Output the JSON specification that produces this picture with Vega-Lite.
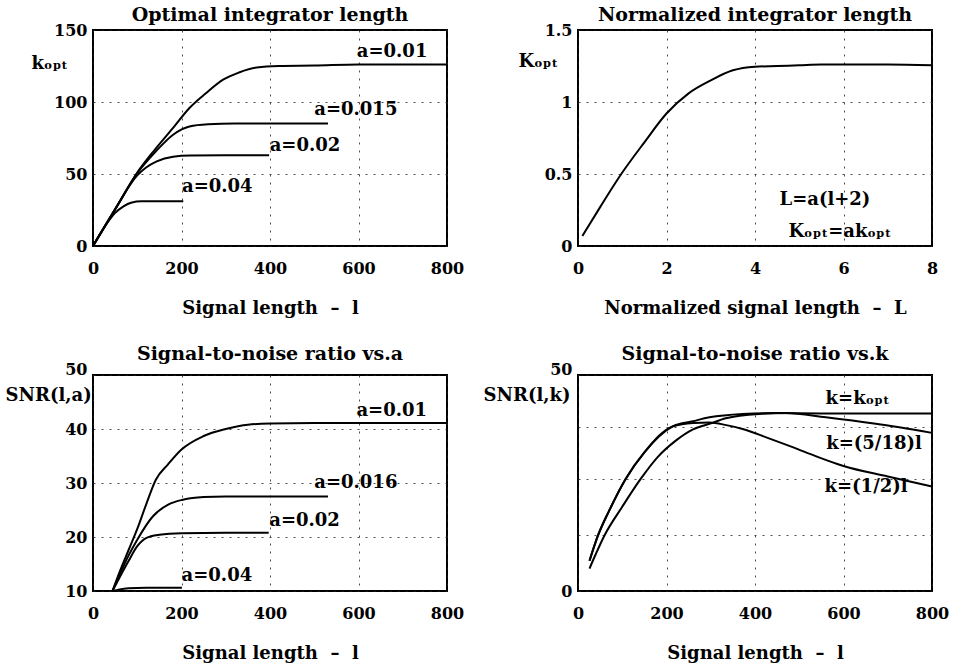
{
  "$schema": "https://vega.github.io/schema/vega-lite/v6.json",
  "background": "white",
  "padding": {"left": 4, "top": 5, "right": 5, "bottom": 0},
  "bounds": "flush",
  "columns": 2,
  "spacing": {"row": 129, "column": 131},
  "datasets": {
    "p1": [
      {"a": "0.01", "l": 0, "k": 0}, {"a": "0.01", "l": 50, "k": 25.5}, {"a": "0.01", "l": 100, "k": 51}, {"a": "0.01", "l": 140, "k": 67}, {"a": "0.01", "l": 181, "k": 82}, {"a": "0.01", "l": 218, "k": 95.8}, {"a": "0.01", "l": 255, "k": 106}, {"a": "0.01", "l": 294, "k": 115.5}, {"a": "0.01", "l": 330, "k": 120.5}, {"a": "0.01", "l": 370, "k": 124}, {"a": "0.01", "l": 420, "k": 125}, {"a": "0.01", "l": 500, "k": 125.3}, {"a": "0.01", "l": 600, "k": 126}, {"a": "0.01", "l": 700, "k": 126}, {"a": "0.01", "l": 800, "k": 126},
      {"a": "0.015", "l": 0, "k": 0}, {"a": "0.015", "l": 50, "k": 25.5}, {"a": "0.015", "l": 100, "k": 50.5}, {"a": "0.015", "l": 140, "k": 65}, {"a": "0.015", "l": 181, "k": 77.3}, {"a": "0.015", "l": 218, "k": 83}, {"a": "0.015", "l": 260, "k": 84.5}, {"a": "0.015", "l": 320, "k": 85}, {"a": "0.015", "l": 400, "k": 85}, {"a": "0.015", "l": 531, "k": 85},
      {"a": "0.02", "l": 0, "k": 0}, {"a": "0.02", "l": 50, "k": 25.5}, {"a": "0.02", "l": 100, "k": 49}, {"a": "0.02", "l": 120, "k": 54.5}, {"a": "0.02", "l": 144, "k": 58.8}, {"a": "0.02", "l": 181, "k": 62}, {"a": "0.02", "l": 220, "k": 62.8}, {"a": "0.02", "l": 300, "k": 63}, {"a": "0.02", "l": 398, "k": 63},
      {"a": "0.04", "l": 0, "k": 0}, {"a": "0.04", "l": 30, "k": 15}, {"a": "0.04", "l": 50, "k": 23}, {"a": "0.04", "l": 69, "k": 27.5}, {"a": "0.04", "l": 86, "k": 30}, {"a": "0.04", "l": 110, "k": 31}, {"a": "0.04", "l": 150, "k": 31}, {"a": "0.04", "l": 204, "k": 31}
    ],
    "p1labels": [
      {"text": "a=0.01", "l": 676, "k": 135},
      {"text": "a=0.015", "l": 594, "k": 94.7},
      {"text": "a=0.02", "l": 479, "k": 69.7},
      {"text": "a=0.04", "l": 281, "k": 41}
    ],
    "p2": [
      {"L": 0.1, "K": 0.07}, {"L": 0.5, "K": 0.27}, {"L": 1, "K": 0.51}, {"L": 1.5, "K": 0.72}, {"L": 2, "K": 0.92}, {"L": 2.5, "K": 1.06}, {"L": 3, "K": 1.15}, {"L": 3.5, "K": 1.22}, {"L": 4, "K": 1.245}, {"L": 4.5, "K": 1.25}, {"L": 5, "K": 1.255}, {"L": 5.5, "K": 1.26}, {"L": 6, "K": 1.26}, {"L": 7, "K": 1.26}, {"L": 8, "K": 1.255}
    ],
    "p2labels": [
      {"text": "L=a(l+2)", "L": 5.58, "K": 0.32},
      {"text": "Kₒₚₜ=akₒₚₜ", "L": 5.92, "K": 0.1}
    ],
    "p3": [
      {"a": "0.01", "l": 44, "s": 10}, {"a": "0.01", "l": 60, "s": 13.5}, {"a": "0.01", "l": 80, "s": 17.5}, {"a": "0.01", "l": 100, "s": 21.5}, {"a": "0.01", "l": 120, "s": 26}, {"a": "0.01", "l": 142, "s": 30.6}, {"a": "0.01", "l": 170, "s": 33.5}, {"a": "0.01", "l": 200, "s": 36.2}, {"a": "0.01", "l": 250, "s": 38.7}, {"a": "0.01", "l": 300, "s": 40}, {"a": "0.01", "l": 350, "s": 40.8}, {"a": "0.01", "l": 400, "s": 41}, {"a": "0.01", "l": 500, "s": 41.1}, {"a": "0.01", "l": 600, "s": 41.1}, {"a": "0.01", "l": 800, "s": 41.1},
      {"a": "0.016", "l": 44, "s": 10}, {"a": "0.016", "l": 60, "s": 13}, {"a": "0.016", "l": 80, "s": 16.5}, {"a": "0.016", "l": 100, "s": 19.5}, {"a": "0.016", "l": 135, "s": 23.8}, {"a": "0.016", "l": 170, "s": 26}, {"a": "0.016", "l": 203, "s": 26.9}, {"a": "0.016", "l": 250, "s": 27.4}, {"a": "0.016", "l": 300, "s": 27.5}, {"a": "0.016", "l": 400, "s": 27.5}, {"a": "0.016", "l": 531, "s": 27.5},
      {"a": "0.02", "l": 44, "s": 10}, {"a": "0.02", "l": 60, "s": 12.5}, {"a": "0.02", "l": 80, "s": 15.5}, {"a": "0.02", "l": 100, "s": 18.3}, {"a": "0.02", "l": 120, "s": 19.8}, {"a": "0.02", "l": 150, "s": 20.4}, {"a": "0.02", "l": 200, "s": 20.7}, {"a": "0.02", "l": 300, "s": 20.8}, {"a": "0.02", "l": 397, "s": 20.8},
      {"a": "0.04", "l": 44, "s": 10}, {"a": "0.04", "l": 60, "s": 10.3}, {"a": "0.04", "l": 80, "s": 10.5}, {"a": "0.04", "l": 120, "s": 10.6}, {"a": "0.04", "l": 201, "s": 10.6}
    ],
    "p3labels": [
      {"text": "a=0.01", "l": 675, "s": 43.3},
      {"text": "a=0.016", "l": 594, "s": 30},
      {"text": "a=0.02", "l": 478, "s": 22.9},
      {"text": "a=0.04", "l": 280, "s": 12.7}
    ],
    "p4": [
      {"k": "kopt", "l": 26, "s": 7}, {"k": "kopt", "l": 45, "s": 12.8}, {"k": "kopt", "l": 70, "s": 18.5}, {"k": "kopt", "l": 108, "s": 26}, {"k": "kopt", "l": 150, "s": 32.1}, {"k": "kopt", "l": 214, "s": 38.1}, {"k": "kopt", "l": 260, "s": 39.3}, {"k": "kopt", "l": 297, "s": 40.2}, {"k": "kopt", "l": 372, "s": 41}, {"k": "kopt", "l": 447, "s": 41.2}, {"k": "kopt", "l": 550, "s": 41.1}, {"k": "kopt", "l": 650, "s": 41.1}, {"k": "kopt", "l": 800, "s": 41.1},
      {"k": "half", "l": 26, "s": 7}, {"k": "half", "l": 45, "s": 12.8}, {"k": "half", "l": 70, "s": 18.5}, {"k": "half", "l": 108, "s": 26}, {"k": "half", "l": 150, "s": 32.1}, {"k": "half", "l": 214, "s": 38.1}, {"k": "half", "l": 260, "s": 38.9}, {"k": "half", "l": 297, "s": 39}, {"k": "half", "l": 335, "s": 38.4}, {"k": "half", "l": 372, "s": 37.5}, {"k": "half", "l": 430, "s": 35.4}, {"k": "half", "l": 485, "s": 33.3}, {"k": "half", "l": 540, "s": 31.1}, {"k": "half", "l": 598, "s": 29}, {"k": "half", "l": 700, "s": 26.5}, {"k": "half", "l": 800, "s": 24.2},
      {"k": "five18", "l": 26, "s": 5.2}, {"k": "five18", "l": 40, "s": 8.5}, {"k": "five18", "l": 59.5, "s": 12.8}, {"k": "five18", "l": 100, "s": 19.5}, {"k": "five18", "l": 142, "s": 26}, {"k": "five18", "l": 180, "s": 31}, {"k": "five18", "l": 221, "s": 34.8}, {"k": "five18", "l": 260, "s": 37.4}, {"k": "five18", "l": 297, "s": 38.7}, {"k": "five18", "l": 334, "s": 40}, {"k": "five18", "l": 410, "s": 41}, {"k": "five18", "l": 470, "s": 41.2}, {"k": "five18", "l": 560, "s": 40.2}, {"k": "five18", "l": 673, "s": 38.7}, {"k": "five18", "l": 800, "s": 36.6}
    ],
    "p4labels": [
      {"text": "k=kₒₚₜ", "l": 632, "s": 44.5},
      {"text": "k=(5/18)l", "l": 669, "s": 34.1},
      {"text": "k=(1/2)l", "l": 651, "s": 24}
    ]
  },
  "concat": [
    {
      "title": "Optimal integrator length",
      "width": 354, "height": 216,
      "layer": [
        {
          "data": {"name": "p1"},
          "mark": {"type": "line", "interpolate": "monotone"},
          "encoding": {
            "x": {"field": "l", "type": "quantitative", "scale": {"domain": [0, 800], "nice": false}, "axis": {"values": [0, 200, 400, 600, 800], "title": "Signal length\u00a0\u00a0–\u00a0\u00a0l"}},
            "y": {"field": "k", "type": "quantitative", "scale": {"domain": [0, 150], "nice": false}, "axis": {"values": [0, 50, 100, 150], "title": "kₒₚₜ", "titleX": -62, "titleY": 33}},
            "detail": {"field": "a"}
          }
        },
        {
          "data": {"name": "p1labels"},
          "mark": {"type": "text"},
          "encoding": {
            "x": {"field": "l", "type": "quantitative"},
            "y": {"field": "k", "type": "quantitative"},
            "text": {"field": "text"}
          }
        }
      ]
    },
    {
      "title": "Normalized integrator length",
      "width": 354, "height": 216,
      "layer": [
        {
          "data": {"name": "p2"},
          "mark": {"type": "line", "interpolate": "monotone"},
          "encoding": {
            "x": {"field": "L", "type": "quantitative", "scale": {"domain": [0, 8], "nice": false}, "axis": {"values": [0, 2, 4, 6, 8], "title": "Normalized signal length\u00a0\u00a0–\u00a0\u00a0L"}},
            "y": {"field": "K", "type": "quantitative", "scale": {"domain": [0, 1.5], "nice": false}, "axis": {"values": [0, 0.5, 1, 1.5], "format": "~g", "title": "Kₒₚₜ", "titleX": -60, "titleY": 31}}
          }
        },
        {
          "data": {"name": "p2labels"},
          "mark": {"type": "text"},
          "encoding": {
            "x": {"field": "L", "type": "quantitative"},
            "y": {"field": "K", "type": "quantitative"},
            "text": {"field": "text"}
          }
        }
      ]
    },
    {
      "title": "Signal-to-noise ratio vs.a",
      "width": 354, "height": 216,
      "layer": [
        {
          "data": {"name": "p3"},
          "mark": {"type": "line", "interpolate": "monotone"},
          "encoding": {
            "x": {"field": "l", "type": "quantitative", "scale": {"domain": [0, 800], "nice": false}, "axis": {"values": [0, 200, 400, 600, 800], "title": "Signal length\u00a0\u00a0–\u00a0\u00a0l"}},
            "y": {"field": "s", "type": "quantitative", "scale": {"domain": [10, 50], "nice": false, "zero": false}, "axis": {"values": [10, 20, 30, 40, 50], "title": "SNR(l,a)", "titleX": -88, "titleY": 20, "labelOffset": {"condition": {"test": "datum.value == 50", "value": -6}, "value": 0}}},
            "detail": {"field": "a"}
          }
        },
        {
          "data": {"name": "p3labels"},
          "mark": {"type": "text"},
          "encoding": {
            "x": {"field": "l", "type": "quantitative"},
            "y": {"field": "s", "type": "quantitative"},
            "text": {"field": "text"}
          }
        }
      ]
    },
    {
      "title": "Signal-to-noise ratio vs.k",
      "width": 354, "height": 216,
      "layer": [
        {
          "data": {"name": "p4"},
          "mark": {"type": "line", "interpolate": "monotone"},
          "encoding": {
            "x": {"field": "l", "type": "quantitative", "scale": {"domain": [0, 800], "nice": false}, "axis": {"values": [0, 200, 400, 600, 800], "title": "Signal length\u00a0\u00a0–\u00a0\u00a0l"}},
            "y": {"field": "s", "type": "quantitative", "scale": {"domain": [0, 50], "nice": false}, "axis": {"values": [0, 13, 26, 38, 50], "labelExpr": "datum.value == 0 || datum.value == 50 ? datum.label : ''", "title": "SNR(l,k)", "titleX": -95, "titleY": 20, "labelOffset": {"condition": {"test": "datum.value == 50", "value": -6}, "value": 0}}},
            "detail": {"field": "k"}
          }
        },
        {
          "data": {"name": "p4labels"},
          "mark": {"type": "text"},
          "encoding": {
            "x": {"field": "l", "type": "quantitative"},
            "y": {"field": "s", "type": "quantitative"},
            "text": {"field": "text"}
          }
        }
      ]
    }
  ],
  "config": {
    "font": "DejaVu Serif",
    "view": {"stroke": "black", "strokeWidth": 2},
    "axis": {
      "domain": false,
      "ticks": false,
      "labelFlush": false,
      "labelFont": "DejaVu Serif", "labelFontWeight": "bold", "labelFontSize": 16, "labelColor": "black",
      "titleFont": "DejaVu Serif", "titleFontWeight": "bold", "titleFontSize": 18, "titleColor": "black",
      "gridColor": "#222", "gridDash": [2, 6], "gridWidth": 1, "gridOpacity": 0.8
    },
    "axisX": {"labelPadding": 14, "titlePadding": 23},
    "axisY": {"labelPadding": 6, "titleAngle": 0, "titleAlign": "left", "titleBaseline": "middle"},
    "title": {"font": "DejaVu Serif", "fontSize": 19, "fontWeight": "bold", "offset": -3, "frame": "group", "color": "black"},
    "text": {"font": "DejaVu Serif", "fontWeight": "bold", "fontSize": 18, "align": "center", "baseline": "middle", "color": "black"},
    "line": {"color": "black", "strokeWidth": 2}
  }
}
